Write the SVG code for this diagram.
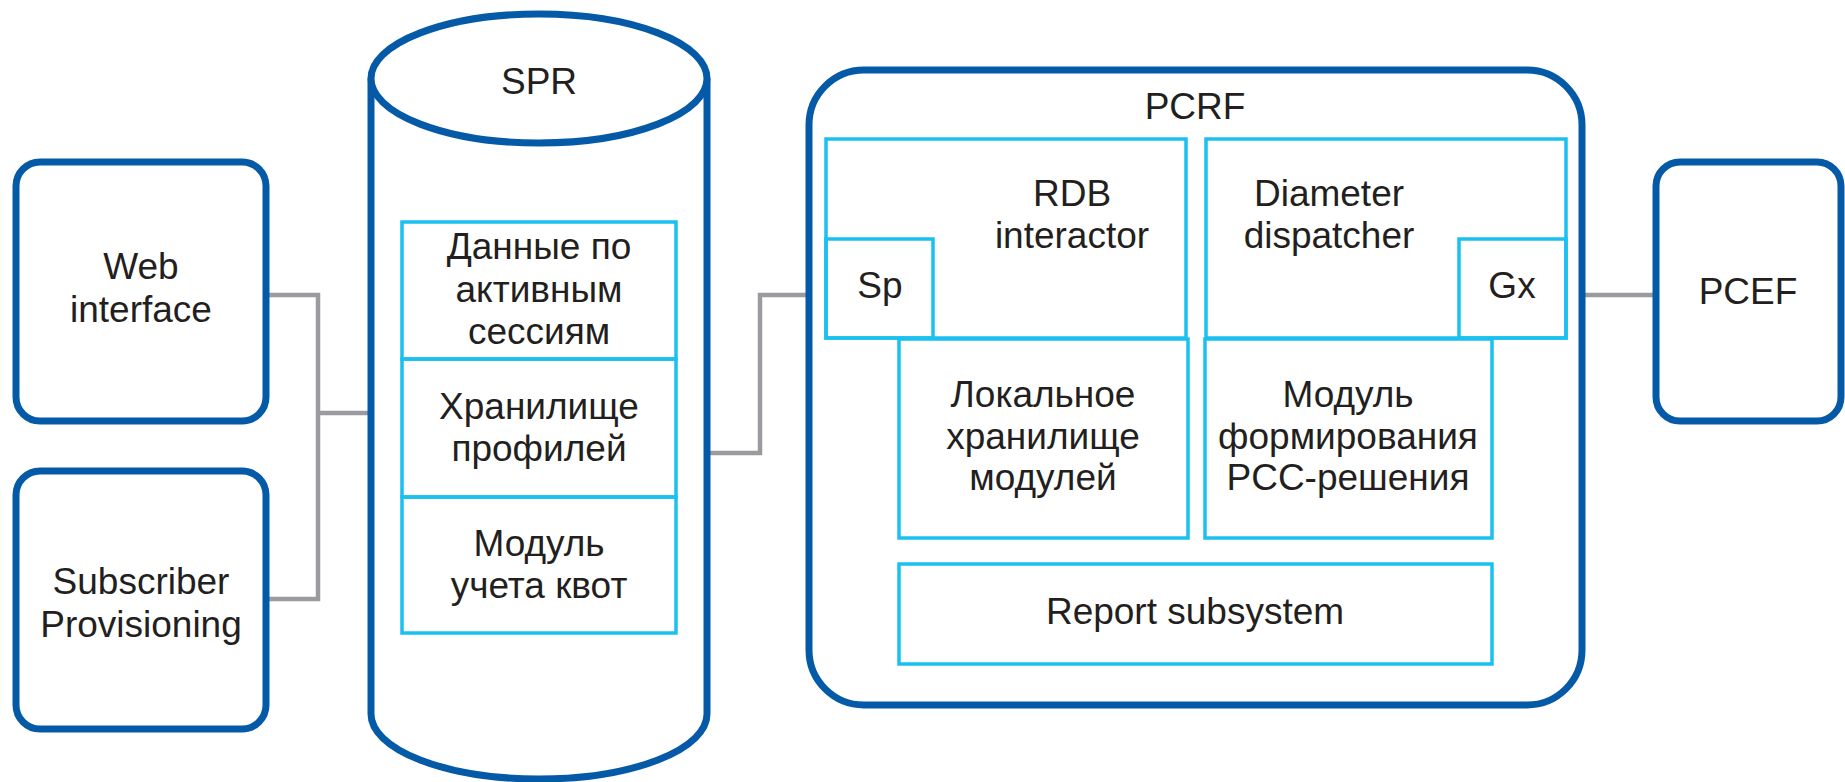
<svg xmlns="http://www.w3.org/2000/svg" width="1845" height="782" viewBox="0 0 1845 782">
<style>
.outer{fill:#fff;stroke:#055aa8;stroke-width:7}
.inner{fill:none;stroke:#1ac0f0;stroke-width:3.5}
.conn{fill:none;stroke:#9a9b9e;stroke-width:4.5}
text{font-family:"Liberation Sans",Arial,sans-serif;font-size:37px;fill:#231f20;text-anchor:middle}
</style>
<rect width="1845" height="782" fill="#fff"/>
<g id="connectors">
<polyline class="conn" points="266,295 318,295 318,599 266,599"/>
<line class="conn" x1="318" y1="413" x2="371" y2="413"/>
<polyline class="conn" points="707,453 760,453 760,295 809,295"/>
<line class="conn" x1="1582" y1="295" x2="1656" y2="295"/>
</g>
<g id="web-interface">
<rect class="outer" x="16" y="162" width="250" height="259" rx="24"/>
<text x="141" y="279">Web</text>
<text x="141" y="322">interface</text>
</g>
<g id="subscriber-provisioning">
<rect class="outer" x="16" y="471" width="250" height="258" rx="24"/>
<text x="141" y="594">Subscriber</text>
<text x="141" y="637">Provisioning</text>
</g>
<g id="spr">
<path class="outer" d="M371,78.5 L371,714 A168,65 0 0 0 707,714 L707,78.5"/>
<ellipse class="outer" cx="539" cy="78.5" rx="168" ry="64.5"/>
<text x="539" y="94">SPR</text>
<rect class="inner" x="402" y="222" width="274" height="137"/>
<rect class="inner" x="402" y="359" width="274" height="138"/>
<rect class="inner" x="402" y="497" width="274" height="136"/>
<text x="539" y="259">Данные по</text>
<text x="539" y="302">активным</text>
<text x="539" y="344">сессиям</text>
<text x="539" y="419">Хранилище</text>
<text x="539" y="461">профилей</text>
<text x="539" y="556">Модуль</text>
<text x="539" y="598">учета квот</text>
</g>
<g id="pcrf">
<rect class="outer" x="809" y="70" width="773" height="635" rx="55"/>
<text x="1195" y="119">PCRF</text>
</g>
<g id="rdb-interactor">
<rect class="inner" x="826" y="139" width="360" height="199"/>
<text x="1072" y="206">RDB</text>
<text x="1072" y="248">interactor</text>
</g>
<g id="sp">
<rect class="inner" x="826" y="239" width="107" height="99"/>
<text x="880" y="298">Sp</text>
</g>
<g id="diameter-dispatcher">
<rect class="inner" x="1206" y="139" width="360" height="199"/>
<text x="1329" y="206">Diameter</text>
<text x="1329" y="248">dispatcher</text>
</g>
<g id="gx">
<rect class="inner" x="1459" y="239" width="107" height="99"/>
<text x="1512" y="298">Gx</text>
</g>
<g id="local-storage">
<rect class="inner" x="899" y="339" width="289" height="199"/>
<text x="1043" y="407">Локальное</text>
<text x="1043" y="449">хранилище</text>
<text x="1043" y="490">модулей</text>
</g>
<g id="pcc-module">
<rect class="inner" x="1205" y="339" width="287" height="199"/>
<text x="1348" y="407">Модуль</text>
<text x="1348" y="449">формирования</text>
<text x="1348" y="490">PCC-решения</text>
</g>
<g id="report-subsystem">
<rect class="inner" x="899" y="564" width="593" height="100"/>
<text x="1195" y="624">Report subsystem</text>
</g>
<g id="pcef">
<rect class="outer" x="1656" y="162" width="185" height="259" rx="24"/>
<text x="1748" y="304">PCEF</text>
</g>
</svg>
